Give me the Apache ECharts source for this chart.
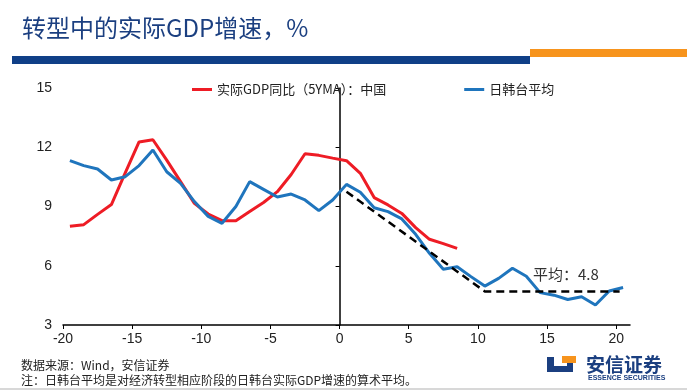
<!DOCTYPE html>
<html>
<head>
<meta charset="utf-8">
<script src="https://cdn.jsdelivr.net/npm/echarts@6/dist/echarts.min.js"></script>
<style>
html,body{margin:0;padding:0;background:#fff;}
#chart{width:687px;height:392px;}
</style>
</head>
<body>
<div id="chart"></div>
<script>
// Periods relative to transition (x positions of points)
var periods = [-19.5,-18.5,-17.5,-16.5,-15.5,-14.5,-13.5,-12.5,-11.5,-10.5,
  -9.5,-8.5,-7.5,-6.5,-5.5,-4.5,-3.5,-2.5,-1.5,-0.5,
  0.5,1.5,2.5,3.5,4.5,5.5,6.5,7.5,8.5,9.5,
  10.5,11.5,12.5,13.5,14.5,15.5,16.5,17.5,18.5,19.5,20.5];
// China real GDP YoY (5Y moving average)
var chinaGDP = [8.0,8.08,8.6,9.1,10.7,12.27,12.38,11.35,10.26,9.16,
  8.62,8.28,8.28,8.75,9.2,9.75,10.62,11.67,11.59,11.45,
  11.32,10.68,9.45,9.08,8.65,7.93,7.34,7.12,6.88];
// Japan / Korea / Taiwan average
var peerAvg = [11.32,11.07,10.9,10.34,10.51,11.07,11.86,10.76,10.17,9.25,
  8.5,8.15,9.0,10.26,9.87,9.48,9.63,9.33,8.79,9.33,
  10.12,9.72,8.94,8.74,8.37,7.59,6.63,5.82,5.95,5.45,
  4.97,5.36,5.87,5.47,4.64,4.51,4.29,4.43,4.01,4.72,4.9];
// Dashed trend / average guide
var trendX = [0.5,10.5,20.25];
var trendY = [9.75,4.7,4.7];
var xTicks = [-20,-15,-10,-5,0,5,10,15,20];
var yTicks = [3,6,9,12,15];

function pairs(xs, ys){ var o=[]; for(var i=0;i<ys.length;i++){ o.push([xs[i], ys[i]]); } return o; }

var chart = echarts.init(document.getElementById('chart'), null, {renderer:'canvas'});
var font = '"Liberation Sans", Arial, "Noto Sans CJK SC", sans-serif';
var cjk = '"Noto Sans CJK SC", sans-serif';

chart.setOption({
  animation:false,
  backgroundColor:'#fff',
  textStyle:{fontFamily:font},
  grid:{left:63, top:88, width:567, height:237, containLabel:false},
  legend:{
    left:187, top:78, itemWidth:20, itemHeight:3, itemGap:78, icon:'rect',
    data:['实际GDP同比（5YMA）：中国','日韩台平均'],
    textStyle:{fontSize:13, color:'#222', fontFamily:cjk}
  },
  xAxis:{
    type:'value', min:-20, max:21, interval:5,
    axisLine:{onZero:false, lineStyle:{color:'#000', width:1.5}},
    axisTick:{show:true, inside:false, length:4, customValues:xTicks, lineStyle:{color:'#000'}},
    axisLabel:{customValues:xTicks, fontSize:14, color:'#222', margin:7,
      formatter:function(v){ return (v % 5 === 0) ? String(v) : ''; }},
    splitLine:{show:false}
  },
  yAxis:[{
    type:'value', min:3, max:15, interval:3, position:'left',
    axisLine:{show:false, onZero:false},
    axisTick:{show:false},
    axisLabel:{fontSize:14, color:'#222', margin:11},
    splitLine:{show:false}
  },{
    type:'value', min:3, max:15, interval:3, position:'left',
    axisLine:{show:true, onZero:true, lineStyle:{color:'#000', width:1.5}},
    axisTick:{show:true, inside:false, length:4, lineStyle:{color:'#000'}},
    axisLabel:{show:false},
    splitLine:{show:false}
  }],
  series:[{
    name:'实际GDP同比（5YMA）：中国', type:'line', yAxisIndex:0,
    data:pairs(periods, chinaGDP), symbol:'none', smooth:false,
    lineStyle:{color:'#ee1c25', width:3}, itemStyle:{color:'#ee1c25'}, z:3
  },{
    name:'日韩台平均', type:'line', yAxisIndex:0,
    data:pairs(periods, peerAvg), symbol:'none', smooth:false,
    lineStyle:{color:'#1f75bd', width:3}, itemStyle:{color:'#1f75bd'}, z:4
  },{
    name:'平均', type:'line', yAxisIndex:0,
    data:pairs(trendX, trendY), symbol:'none',
    lineStyle:{color:'#000', width:2.5, type:[8,5]}, z:5
  }],
  graphic:[
    {type:'text', left:22, top:16, style:{text:'转型中的实际GDP增速，%', fontSize:24, fill:'#1b3f80', fontFamily:cjk}},
    {type:'rect', shape:{x:12, y:56, width:518, height:8}, style:{fill:'#0f3f87'}},
    {type:'rect', shape:{x:530, y:49, width:157, height:8}, style:{fill:'#f7941d'}},
    {type:'text', left:533, top:267, style:{text:'平均：4.8', fontSize:15, fill:'#333', fontFamily:cjk}},
    {type:'text', left:21, top:359, style:{text:'数据来源：Wind，安信证券', fontSize:12, fill:'#222', fontFamily:cjk}},
    {type:'text', left:21, top:374, style:{text:'注：日韩台平均是对经济转型相应阶段的日韩台实际GDP增速的算术平均。', fontSize:12, fill:'#222', fontFamily:cjk}},
    {type:'rect', shape:{x:547, y:357, width:7, height:15}, style:{fill:'#1b3f80'}},
    {type:'rect', shape:{x:547, y:366, width:26, height:6}, style:{fill:'#1b3f80'}},
    {type:'rect', shape:{x:567, y:362, width:6, height:10}, style:{fill:'#1b3f80'}},
    {type:'rect', shape:{x:562, y:356, width:14, height:7}, style:{fill:'#f7941d'}},
    {type:'text', left:586, top:355, style:{text:'安信证券', fontSize:19, fontWeight:'bold', fill:'#1b3f80', fontFamily:cjk}},
    {type:'text', left:588, top:375, style:{text:'ESSENCE SECURITIES', fontSize:7, fontWeight:'bold', fill:'#1b3f80', fontFamily:font}},
    {type:'rect', shape:{x:0, y:388, width:687, height:2}, style:{fill:'#d8d8d8'}}
  ]
});
</script>
</body>
</html>
